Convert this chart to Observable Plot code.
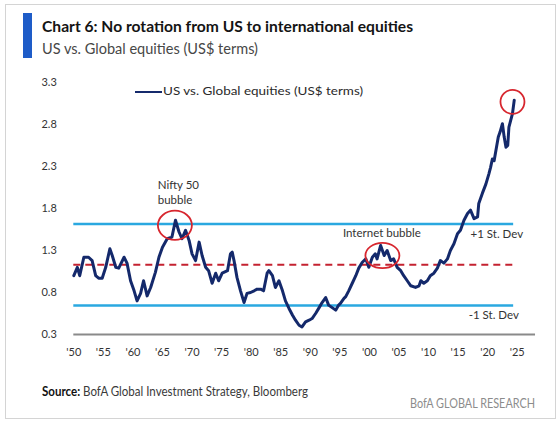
<!DOCTYPE html>
<html>
<head>
<meta charset="utf-8">
<script src="https://cdn.jsdelivr.net/npm/d3@7"></script>
<script src="https://cdn.jsdelivr.net/npm/@observablehq/plot@0.6"></script>
<style>
  html, body { margin: 0; padding: 0; background: #fff; }
  #wrap { position: relative; width: 558px; height: 429px; overflow: hidden; font-family: Lato, "Open Sans", sans-serif; }
  .abs { position: absolute; white-space: nowrap; line-height: 1; transform-origin: 0 0; }
  #plot { position: absolute; left: 0; top: 64px; }
</style>
</head>
<body>
<div id="wrap">
  <div class="abs" style="left:5px;top:4px;width:549px;height:413px;border:1px solid #d4d4d4;"></div>
  <div class="abs" style="left:23px;top:13px;width:9px;height:45px;background:#1e5cc8;"></div>
  <div class="abs fit" id="title" data-w="371" style="left:42px;top:17.5px;font-size:16px;font-weight:700;color:#141414;"></div>
  <div class="abs fit" id="subtitle" data-w="216" style="left:42px;top:40.8px;font-size:15.5px;color:#474747;"></div>
  <div class="abs" id="legline" style="left:135px;top:90.5px;width:27px;height:2.6px;background:#152a6c;"></div>
  <div class="abs fit" id="legtext" data-w="200" style="left:163px;top:85.4px;font-size:12px;color:#2a2a2a;"></div>
  <div id="plot"></div>
  <div class="abs fit" id="source" data-w="266" style="left:42px;top:385px;font-size:13px;color:#3a3a3a;"></div>
  <div class="abs fit" id="brand" data-w="125" style="left:410px;top:398px;font-size:12.5px;color:#8c8c8c;"></div>
</div>
<script>
// ---- data ----
const titleText = "Chart 6: No rotation from US to international equities";
const subtitleText = "US vs. Global equities (US$ terms)";
const seriesName = "US vs. Global equities (US$ terms)";
const sourceLabel = "Source:";
const sourceText = " BofA Global Investment Strategy, Bloomberg";
const brandText = "BofA GLOBAL RESEARCH";

const years = [
  1950.0,1950.6,1951.0,1951.7,1952.5,1953.1,1953.7,1954.2,1954.8,1955.4,
  1956.1,1956.5,1957.1,1957.6,1958.5,1959.0,1959.6,1960.2,1960.7,1961.3,
  1961.8,1962.4,1963.0,1963.8,1964.4,1965.0,1965.8,1966.6,1967.2,1967.8,
  1968.3,1968.9,1969.5,1970.0,1970.6,1971.2,1971.7,1972.3,1972.8,1973.4,
  1974.0,1974.5,1975.1,1976.0,1976.5,1976.8,1977.1,1977.6,1978.2,1978.8,
  1979.3,1979.9,1980.5,1981.0,1981.6,1982.1,1982.7,1983.0,1983.6,1984.1,
  1984.7,1985.3,1985.8,1986.4,1987.0,1987.5,1988.1,1988.6,1989.2,1989.8,
  1990.3,1990.9,1991.5,1992.0,1992.6,1993.1,1993.7,1994.3,1994.8,1995.1,
  1995.7,1996.0,1996.5,1997.1,1997.7,1998.2,1998.8,1999.4,1999.9,2000.5,
  2001.0,2001.3,2001.9,2002.5,2003.0,2003.6,2004.1,2004.7,2005.3,2005.8,
  2006.4,2007.0,2007.8,2008.4,2008.7,2009.2,2009.8,2010.3,2010.9,2011.5,
  2012.0,2012.6,2013.2,2013.7,2014.3,2014.9,2015.4,2016.0,2016.6,2017.1,
  2017.7,2018.3,2018.5,2019.1,2019.7,2020.2,2020.5,2020.8,2021.1,2021.4,
  2021.8,2022.1,2022.5,2022.8,2023.1,2023.4,2023.6,2023.9,2024.2,2024.5
];
const values = [
  1.00,1.10,1.00,1.22,1.22,1.18,1.00,0.97,0.97,1.10,
  1.32,1.24,1.10,1.09,1.22,1.15,0.94,0.82,0.70,0.79,
  0.94,0.76,0.86,1.04,1.22,1.34,1.44,1.46,1.66,1.52,
  1.44,1.54,1.42,1.26,1.18,1.40,1.24,1.10,1.06,0.91,
  1.03,0.94,1.03,1.06,1.26,1.28,1.18,0.98,0.82,0.68,
  0.79,0.80,0.82,0.84,0.84,0.82,1.03,1.06,1.00,0.86,
  0.94,0.82,0.70,0.61,0.53,0.47,0.41,0.39,0.45,0.47,
  0.49,0.55,0.62,0.68,0.74,0.65,0.62,0.59,0.65,0.67,
  0.73,0.75,0.82,0.91,1.00,1.09,1.16,1.20,1.10,1.22,
  1.26,1.20,1.36,1.24,1.30,1.18,1.20,1.10,1.06,1.00,
  0.94,0.88,0.86,0.88,0.94,0.91,0.94,1.00,1.03,1.09,
  1.18,1.15,1.20,1.30,1.38,1.50,1.54,1.66,1.74,1.78,
  1.68,1.70,1.86,1.98,2.09,2.21,2.29,2.39,2.37,2.49,
  2.65,2.71,2.81,2.65,2.53,2.55,2.77,2.85,2.93,3.09
];

const meanLevel = 1.13;
const plusSd = 1.615;
const minusSd = 0.645;
const bandStart = 1950;
const bandEnd = 2024.4;
const axisEnd = 2028.1;

const xTicks = [1950,1955,1960,1965,1970,1975,1980,1985,1990,1995,2000,2005,2010,2015,2020,2025];
const yTicks = [0.3,0.8,1.3,1.8,2.3,2.8,3.3];

const circleYears = [1967.1, 2002.2, 2024.2];
const circleValues = [1.60, 1.24, 3.07];

const noteLabels = ["Nifty 50\nbubble", "Internet bubble"];
const noteYears = [1964.2, 2002.1];
const noteValues = [1.996, 1.50];

const sdLabels = ["+1 St. Dev", "-1 St. Dev"];
const sdLabelYears = [2017.1, 2016.8];
const sdLabelValues = [1.497, 0.526];

// ---- build ----
const series = years.map((y, i) => ({year: y, value: values[i]}));
const circles = circleYears.map((y, i) => ({year: y, value: circleValues[i]}));
const notes = noteLabels.map((t, i) => ({text: t, year: noteYears[i], value: noteValues[i]}));
const sdNotes = sdLabels.map((t, i) => ({text: t, year: sdLabelYears[i], value: sdLabelValues[i]}));

function ellipse(aspect) {
  return {
    draw(ctx, size) {
      const rx = Math.sqrt(size / Math.PI), ry = rx * aspect, k = 0.5523;
      ctx.moveTo(rx, 0);
      ctx.bezierCurveTo(rx, k * ry, k * rx, ry, 0, ry);
      ctx.bezierCurveTo(-k * rx, ry, -rx, k * ry, -rx, 0);
      ctx.bezierCurveTo(-rx, -k * ry, -k * rx, -ry, 0, -ry);
      ctx.bezierCurveTo(k * rx, -ry, rx, -k * ry, rx, 0);
      ctx.closePath();
    }
  };
}

const chart = Plot.plot({
  width: 558,
  height: 310,
  marginLeft: 73.3,
  marginRight: 41.3,
  marginTop: 18,
  marginBottom: 40,
  style: {fontFamily: "Lato, sans-serif", fontSize: "11px", color: "#333", background: "transparent", overflow: "visible"},
  x: {domain: [1950, 2025]},
  y: {domain: [0.3, 3.3]},
  marks: [
    Plot.axisY({ticks: yTicks, tickSize: 0, tickPadding: 17, tickFormat: d => d.toFixed(1), label: null, fill: "#333"}),
    Plot.axisX({ticks: xTicks, tickSize: 0, tickPadding: 13.5, tickFormat: d => "'" + String(d).slice(2), label: null, fill: "#333"}),
    Plot.ruleY([0.3], {x1: bandStart, x2: axisEnd, stroke: "#8a8a8a", strokeWidth: 2}),
    Plot.ruleY([plusSd, minusSd], {x1: bandStart, x2: bandEnd, stroke: "#2aa8e0", strokeWidth: 2.5}),
    Plot.ruleY([meanLevel], {x1: bandStart, x2: bandEnd, stroke: "#c42230", strokeWidth: 2, strokeDasharray: "7,5"}),
    Plot.line(series, {x: "year", y: "value", stroke: "#14296b", strokeWidth: 3, strokeLinejoin: "round"}),
    Plot.dot(circles.slice(0, 1), {x: "year", y: "value", r: 17, symbol: ellipse(0.86), stroke: "#d7262e", strokeWidth: 1.8, fill: "none"}),
    Plot.dot(circles.slice(1, 2), {x: "year", y: "value", r: 17, symbol: ellipse(0.74), stroke: "#d7262e", strokeWidth: 1.8, fill: "none"}),
    Plot.dot(circles.slice(2, 3), {x: "year", y: "value", r: 12, symbol: ellipse(1), stroke: "#d7262e", strokeWidth: 1.8, fill: "none"}),
    Plot.text(notes.slice(0, 1), {x: "year", y: "value", text: "text", textAnchor: "start", lineHeight: 1.3, fontSize: 11.5, fill: "#333"}),
    Plot.text(notes.slice(1, 2), {x: "year", y: "value", text: "text", textAnchor: "middle", fontSize: 11.5, fill: "#333"}),
    Plot.text(sdNotes, {x: "year", y: "value", text: "text", textAnchor: "start", fontSize: 11.5, fill: "#333"})
  ]
});
document.getElementById("plot").appendChild(chart);

document.getElementById("title").textContent = titleText;
document.getElementById("subtitle").textContent = subtitleText;
document.getElementById("legtext").textContent = seriesName;
const src = document.getElementById("source");
const b = document.createElement("b");
b.textContent = sourceLabel;
b.style.color = "#111";
src.appendChild(b);
src.appendChild(document.createTextNode(sourceText));
document.getElementById("brand").textContent = brandText;

document.querySelectorAll(".fit").forEach(el => {
  const w = el.getBoundingClientRect().width;
  const target = +el.dataset.w;
  if (w > 0) el.style.transform = `scaleX(${target / w})`;
});
</script>
</body>
</html>
